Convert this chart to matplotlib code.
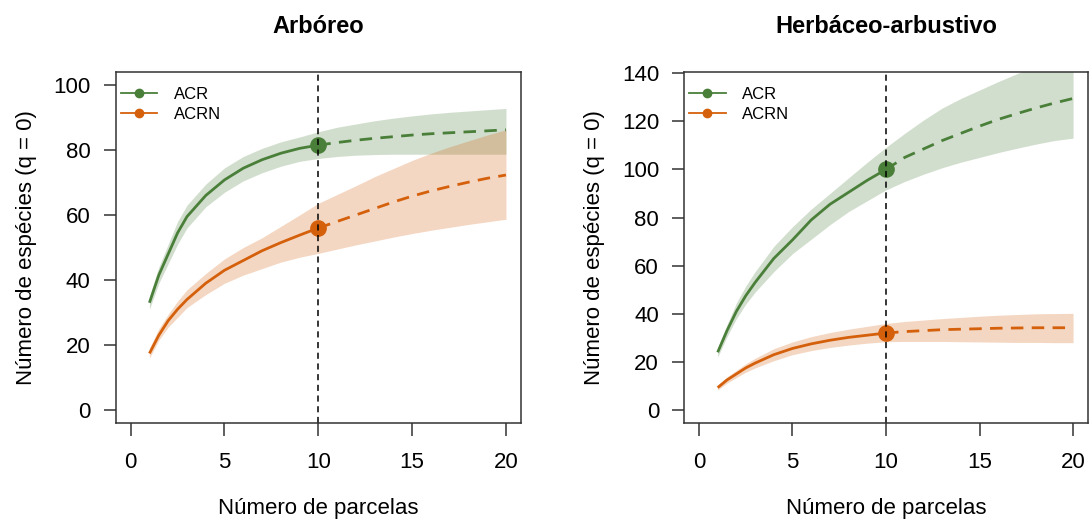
import numpy as np
import matplotlib
matplotlib.use("Agg")
import matplotlib.pyplot as plt
from matplotlib.lines import Line2D

plt.rcParams['font.family'] = ['Liberation Sans', 'DejaVu Sans']

# x values (number of plots)
x_int = [1, 1.5, 2, 2.5, 3, 4, 5, 6, 7, 8, 9, 10]
x_ext = [10, 11, 12, 13, 14, 15, 16, 17, 18, 19, 20]

# --- Arbóreo ---
arb_acr_int = [33, 41.5, 48, 54.5, 59.5, 66, 70.8, 74.4, 77, 79, 80.5, 81.5]
arb_acr_int_lo = [31, 39, 45, 51, 56, 62.5, 67, 70.5, 73, 75, 76.5, 77.4]
arb_acr_int_hi = [35, 44, 51, 58, 63, 69.5, 74.5, 78, 80.5, 82.5, 84, 85.6]
arb_acr_ext = [81.5, 82.3, 83, 83.6, 84.1, 84.6, 85, 85.3, 85.6, 85.9, 86.2]
arb_acr_ext_lo = [77.4, 78, 78.4, 78.6, 78.7, 78.7, 78.7, 78.7, 78.7, 78.7, 78.7]
arb_acr_ext_hi = [85.6, 87, 88, 89, 89.8, 90.5, 91.1, 91.6, 92, 92.4, 92.8]

arb_acrn_int = [17.4, 23, 27.5, 31, 34, 39, 43, 46, 49, 51.5, 53.8, 56]
arb_acrn_int_lo = [16, 21.5, 25.5, 28.5, 31.5, 35.5, 39, 41.5, 43.5, 45.5, 47, 48.2]
arb_acrn_int_hi = [19, 25, 29.5, 33.5, 37, 42, 46.5, 50, 53, 56.5, 60, 63.6]
arb_acrn_ext = [56, 58, 60, 62, 64, 65.8, 67.4, 68.8, 70.1, 71.3, 72.3]
arb_acrn_ext_lo = [48.2, 49.5, 50.8, 52, 53.2, 54.3, 55.3, 56.2, 57.1, 57.9, 58.7]
arb_acrn_ext_hi = [63.6, 66.3, 69, 71.8, 74.3, 76.8, 79, 81, 82.8, 84.6, 86.2]

# --- Herbáceo-arbustivo ---
her_acr_int = [24, 33, 41, 47.5, 53, 63, 70.7, 79, 85.5, 90.5, 95.5, 100]
her_acr_int_lo = [22, 30.5, 38, 44, 49, 57.5, 65, 71, 77, 82.5, 87, 91.5]
her_acr_int_hi = [26, 35.5, 44.5, 51.5, 57.5, 68, 76.2, 83.5, 90, 96.5, 103, 109.2]
her_acr_ext = [100, 105, 108.5, 112, 115, 118, 120.8, 123.2, 125.5, 127.6, 129.5]
her_acr_ext_lo = [91.5, 95, 98, 100.7, 103, 105, 107, 108.8, 110.5, 112, 113]
her_acr_ext_hi = [109.2, 115, 120.5, 125.5, 129.5, 133, 136.5, 139.8, 143, 146, 149]

her_acrn_int = [9.3, 12.5, 15, 17.5, 19.5, 23, 25.6, 27.5, 29, 30.2, 31.1, 32]
her_acrn_int_lo = [8.3, 11.2, 13.5, 15.7, 17.5, 20.5, 23, 24.7, 26, 27, 27.8, 28.4]
her_acrn_int_hi = [10.5, 13.8, 16.5, 19.2, 21.5, 25.5, 28.3, 30.5, 32.2, 33.6, 34.8, 36]
her_acrn_ext = [32, 32.6, 33, 33.4, 33.6, 33.8, 34, 34.1, 34.2, 34.2, 34.2]
her_acrn_ext_lo = [28.4, 28.5, 28.5, 28.5, 28.4, 28.3, 28.2, 28.1, 28.1, 28, 28]
her_acrn_ext_hi = [36, 36.8, 37.4, 38, 38.5, 39, 39.4, 39.7, 40, 40.1, 40.2]

green = '#4a7f3a'
orange = '#d5600c'
labels = ['ACR', 'ACRN']


def draw_curve(ax, yi, lo_i, hi_i, ye, lo_e, hi_e, color):
    xs = x_int + x_ext[1:]
    lo = lo_i + lo_e[1:]
    hi = hi_i + hi_e[1:]
    ax.fill_between(xs, lo, hi, color=color, alpha=0.25, linewidth=0)
    ax.plot(x_int, yi, color=color, lw=2.0, solid_capstyle='butt')
    ax.plot(x_ext, ye, color=color, lw=2.0, dashes=(4.5, 3))
    ax.plot([x_int[-1]], [yi[-1]], 'o', color=color, ms=11)


fig = plt.figure(figsize=(10.89, 5.24), dpi=100)
ax1 = fig.add_axes([0.1062, 0.1927, 0.3722, 0.6699])
ax2 = fig.add_axes([0.6281, 0.1927, 0.3710, 0.6699])

draw_curve(ax1, arb_acr_int, arb_acr_int_lo, arb_acr_int_hi,
           arb_acr_ext, arb_acr_ext_lo, arb_acr_ext_hi, green)
draw_curve(ax1, arb_acrn_int, arb_acrn_int_lo, arb_acrn_int_hi,
           arb_acrn_ext, arb_acrn_ext_lo, arb_acrn_ext_hi, orange)
draw_curve(ax2, her_acr_int, her_acr_int_lo, her_acr_int_hi,
           her_acr_ext, her_acr_ext_lo, her_acr_ext_hi, green)
draw_curve(ax2, her_acrn_int, her_acrn_int_lo, her_acrn_int_hi,
           her_acrn_ext, her_acrn_ext_lo, her_acrn_ext_hi, orange)

setup = [
    (ax1, 'Arbóreo', (-4, 104), [0, 20, 40, 60, 80, 100]),
    (ax2, 'Herbáceo-arbustivo', (-5.4, 140.5), [0, 20, 40, 60, 80, 100, 120, 140]),
]
for ax, title, ylim, yt in setup:
    ax.axvline(10, color='black', lw=1.1, dashes=(4, 3))
    ax.set_xlim(-0.8, 20.8)
    ax.set_ylim(*ylim)
    ax.set_xticks([0, 5, 10, 15, 20])
    ax.set_yticks(yt)
    ax.tick_params(labelsize=16, length=9, width=1.1, color='#333333', pad=9)
    ax.tick_params(axis='x', pad=12)
    for s in ax.spines.values():
        s.set_linewidth(1.1)
        s.set_color('#333333')
    ax.set_title(title, fontsize=17, fontweight='bold', pad=28)
    ax.set_xlabel('Número de parcelas', fontsize=16, labelpad=18)
    ax.set_ylabel('Número de espécies (q = 0)', fontsize=16, labelpad=12)
    handles = [Line2D([0], [0], color=c, lw=1.3, marker='o', ms=6) for c in (green, orange)]
    ax.legend(handles, labels, loc='upper left', frameon=False, fontsize=12,
              handlelength=2.2, handletextpad=1.0, labelspacing=0.3,
              borderaxespad=0.5, bbox_to_anchor=(-0.025, 1.0))

fig.savefig('out.png', dpi=100)
